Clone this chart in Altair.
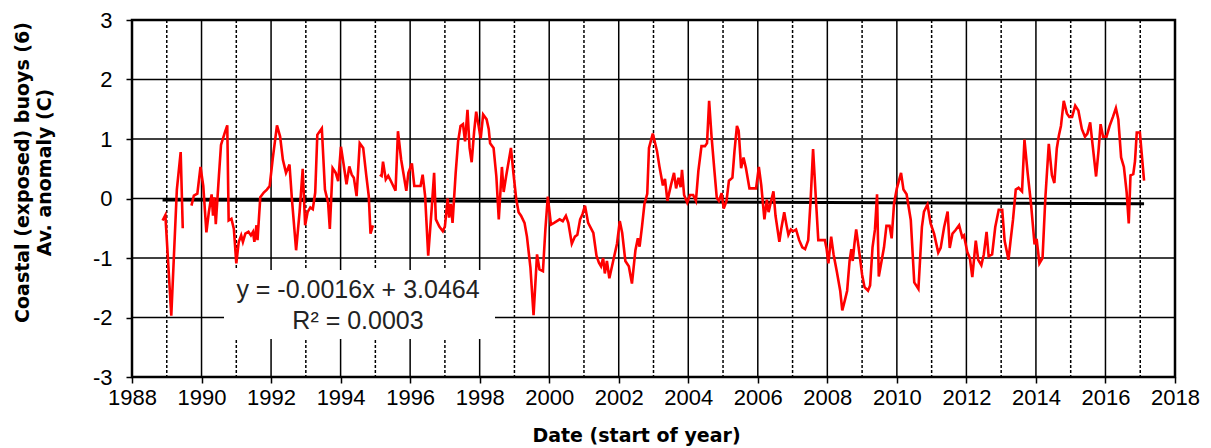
import altair as alt
import pandas as pd

# ---- data ----
seg1_years = [1988.88, 1988.96, 1989.13, 1989.29, 1989.40, 1989.46]
seg1_vals = [-0.37, -0.28, -1.97, 0.15, 0.78, -0.50]

seg2_years = [1989.71, 1989.78, 1989.88, 1989.97, 1990.05, 1990.14, 1990.21, 1990.29, 1990.33,
              1990.37, 1990.41, 1990.50, 1990.56, 1990.66, 1990.74, 1990.78, 1990.86, 1990.93,
              1991.00, 1991.07, 1991.14, 1991.19, 1991.26, 1991.35, 1991.42, 1991.48, 1991.52,
              1991.58, 1991.61, 1991.69, 1991.79, 1991.88, 1991.96, 1992.05, 1992.17, 1992.26,
              1992.34, 1992.43, 1992.53, 1992.60, 1992.72, 1992.82, 1992.91, 1992.98, 1993.05,
              1993.13, 1993.20, 1993.27, 1993.33, 1993.46, 1993.55, 1993.64, 1993.69, 1993.77,
              1993.86, 1993.93, 1994.01, 1994.08, 1994.17, 1994.25, 1994.32, 1994.38, 1994.46,
              1994.55, 1994.65, 1994.74, 1994.81, 1994.86, 1994.93]
seg2_vals = [-0.12, 0.05, 0.08, 0.53, 0.21, -0.57, -0.23, 0.07, -0.29,
             0.02, -0.43, 0.38, 0.90, 1.09, 1.23, -0.37, -0.34, -0.51,
             -1.09, -0.73, -0.62, -0.73, -0.59, -0.56, -0.62, -0.56, -0.73,
             -0.45, -0.70, 0.02, 0.10, 0.15, 0.21, 0.68, 1.23, 1.04,
             0.65, 0.43, 0.57, -0.01, -0.87, -0.23, 0.50, -0.45, -0.23,
             -0.15, -0.18, 0.10, 1.07, 1.18, 0.15, -0.07, -0.51, 0.51,
             0.43, 0.29, 0.87, 0.60, 0.24, 0.54, 0.40, 0.35, 0.04,
             0.93, 0.85, 0.38, 0.04, -0.59, -0.45]

seg3_years = [1995.13, 1995.18, 1995.22, 1995.30, 1995.37, 1995.45, 1995.58, 1995.65, 1995.74,
              1995.89, 1995.95, 1996.05, 1996.12, 1996.21, 1996.30, 1996.36, 1996.43, 1996.52,
              1996.62, 1996.69, 1996.74, 1996.84, 1996.94, 1997.00, 1997.08, 1997.12, 1997.17,
              1997.22, 1997.31, 1997.38, 1997.45, 1997.52, 1997.58, 1997.65, 1997.71, 1997.77,
              1997.84, 1997.90, 1998.03, 1998.10, 1998.20, 1998.26, 1998.30, 1998.40, 1998.48,
              1998.55, 1998.64, 1998.69, 1998.76, 1998.83, 1998.90, 1998.97, 1999.05, 1999.12,
              1999.19, 1999.29, 1999.36, 1999.46, 1999.55, 1999.65, 1999.72, 1999.82, 1999.89,
              1999.96, 2000.05, 2000.14, 2000.22, 2000.30, 2000.39, 2000.48, 2000.55, 2000.65,
              2000.74, 2000.81, 2000.89, 2000.96, 2001.03, 2001.12, 2001.27, 2001.36, 2001.43,
              2001.49, 2001.55, 2001.60, 2001.66, 2001.73, 2001.84, 2001.95, 2002.03, 2002.10,
              2002.19, 2002.29, 2002.38, 2002.48, 2002.55, 2002.60, 2002.67, 2002.74, 2002.82,
              2002.87, 2002.98, 2003.10, 2003.17, 2003.27, 2003.33, 2003.40, 2003.50, 2003.59,
              2003.65, 2003.72, 2003.78, 2003.82, 2003.88, 2003.97, 2004.05, 2004.14, 2004.22,
              2004.29, 2004.38, 2004.48, 2004.54, 2004.60, 2004.67, 2004.75, 2004.82, 2004.88,
              2004.96, 2005.02, 2005.10, 2005.17, 2005.27, 2005.33, 2005.40, 2005.45, 2005.52,
              2005.59, 2005.66, 2005.76, 2005.86, 2005.95, 2006.03, 2006.10, 2006.19, 2006.26,
              2006.31, 2006.38, 2006.45, 2006.51, 2006.62, 2006.68, 2006.76, 2006.83, 2006.88,
              2006.95, 2007.02, 2007.10, 2007.19, 2007.28, 2007.36, 2007.45, 2007.52, 2007.59,
              2007.67, 2007.74, 2007.83, 2007.93, 2007.98, 2008.03, 2008.11, 2008.18, 2008.27,
              2008.37, 2008.43, 2008.50, 2008.57, 2008.64, 2008.69, 2008.73, 2008.78, 2008.83,
              2008.90, 2009.00, 2009.07, 2009.17, 2009.23, 2009.30, 2009.37, 2009.43, 2009.48,
              2009.56, 2009.63, 2009.70, 2009.79, 2009.85, 2009.92, 2010.00, 2010.12, 2010.19,
              2010.28, 2010.40, 2010.50, 2010.62, 2010.72, 2010.78, 2010.88, 2010.97, 2011.07,
              2011.19, 2011.26, 2011.36, 2011.46, 2011.52, 2011.60, 2011.69, 2011.79, 2011.88,
              2011.93, 2012.03, 2012.10, 2012.17, 2012.27, 2012.34, 2012.43, 2012.50, 2012.58,
              2012.64, 2012.74, 2012.83, 2012.93, 2013.03, 2013.10, 2013.21, 2013.27, 2013.34,
              2013.42, 2013.50, 2013.60, 2013.67, 2013.76, 2013.86, 2013.96, 2014.02, 2014.10,
              2014.19, 2014.27, 2014.37, 2014.46, 2014.53, 2014.60, 2014.66, 2014.72, 2014.80,
              2014.89, 2014.96, 2015.04, 2015.13, 2015.22, 2015.32, 2015.41, 2015.48, 2015.56,
              2015.63, 2015.73, 2015.80, 2015.86, 2015.93, 2016.03, 2016.12, 2016.22, 2016.30,
              2016.37, 2016.45, 2016.53, 2016.61, 2016.67, 2016.72, 2016.80, 2016.85, 2016.90,
              2016.99, 2017.04, 2017.11]
seg3_vals = [0.40, 0.38, 0.62, 0.32, 0.38, 0.29, 0.13, 1.13, 0.66,
             0.13, 0.43, 0.59, 0.21, 0.21, 0.21, 0.40, 0.05, -0.96,
             -0.17, 0.43, -0.35, -0.47, -0.55, -0.47, 0.00, -0.32, -0.09,
             -0.41, 0.43, 0.96, 1.22, 1.25, 0.96, 1.49, 0.85, 0.61,
             1.12, 1.46, 1.01, 1.41, 1.33, 1.17, 0.93, 0.85, 0.37,
             -0.35, 0.53, 0.11, 0.37, 0.61, 0.85, 0.43, 0.00, -0.23,
             -0.29, -0.41, -0.64, -1.16, -1.96, -0.94, -1.19, -1.22, -0.52,
             0.03, -0.44, -0.41, -0.38, -0.35, -0.38, -0.29, -0.41, -0.76,
             -0.64, -0.61, -0.35, -0.26, -0.12, -0.41, -0.58, -0.96, -1.08,
             -1.14, -1.00, -1.26, -1.05, -1.34, -1.05, -0.76, -0.38, -0.58,
             -1.05, -1.14, -1.43, -0.87, -0.67, -0.81, -0.47, -0.09, 0.08,
             0.85, 1.09, 0.80, 0.54, 0.22, 0.33, -0.04, 0.22, 0.43,
             0.17, 0.35, 0.19, 0.48, 0.06, -0.07, 0.06, 0.06, -0.04,
             0.46, 0.88, 0.88, 0.93, 1.64, 1.04, 0.48, 0.01, -0.04,
             0.09, -0.17, -0.04, 0.30, 0.35, 0.80, 1.22, 1.14, 0.51,
             0.69, 0.51, 0.17, 0.17, 0.17, 0.53, 0.22, -0.35, -0.02,
             -0.23, -0.05, 0.12, -0.29, -0.73, -0.49, -0.23, -0.46, -0.61,
             -0.52, -0.55, -0.52, -0.70, -0.82, -0.85, -0.70, -0.02, 0.83,
             0.00, -0.70, -0.70, -0.70, -0.85, -1.09, -0.64, -0.94, -1.22,
             -1.55, -1.88, -1.72, -1.55, -1.05, -0.85, -1.05, -0.76, -0.52,
             -0.82, -1.28, -1.49, -1.55, -1.46, -0.82, -0.52, 0.07, -1.31,
             -1.05, -0.82, -0.46, -0.46, -0.67, -0.08, 0.17, 0.43, 0.15,
             0.07, -0.36, -1.41, -1.52, -0.48, -0.22, -0.10, -0.42, -0.59,
             -0.91, -0.83, -0.48, -0.22, -0.83, -0.59, -0.53, -0.45, -0.65,
             -0.62, -0.91, -1.00, -1.32, -0.71, -1.03, -1.12, -0.94, -0.56,
             -0.97, -0.94, -0.48, -0.19, -0.19, -0.71, -1.03, -0.71, -0.36,
             0.15, 0.18, 0.12, 0.99, 0.44, -0.10, -0.77, -0.68, -1.09,
             -1.00, 0.00, 0.92, 0.39, 0.26, 0.84, 1.06, 1.22, 1.64,
             1.43, 1.37, 1.37, 1.56, 1.48, 1.17, 1.04, 1.09, 1.28,
             0.90, 0.37, 0.80, 1.25, 1.04, 1.04, 1.22, 1.38, 1.52,
             1.33, 0.69, 0.53, 0.10, -0.42, 0.39, 0.41, 0.63, 1.11,
             1.11, 0.77, 0.30]

trend_years = [1988.88, 2017.11]
trend_vals = [-0.025, -0.09]

eq_line1 = "y = -0.0016x + 3.0464"
eq_line2 = "R\u00b2 = 0.0003"

x_tick_years = list(range(1988, 2019, 2))
grid_years = list(range(1989, 2018))
y_ticks = [-3, -2, -1, 0, 1, 2, 3]
grid_vals = [-2, -1, 0, 1, 2]

# ---- tables ----
rows = []
for sid, (ys, vs) in enumerate([(seg1_years, seg1_vals), (seg2_years, seg2_vals), (seg3_years, seg3_vals)]):
    for a, b in zip(ys, vs):
        rows.append({"year": a, "value": b, "seg": sid})
df = pd.DataFrame(rows)
trend_df = pd.DataFrame({"year": trend_years, "value": trend_vals})
vgrid_df = pd.DataFrame({"year": grid_years})
hgrid_df = pd.DataFrame({"value": grid_vals})
eq1_df = pd.DataFrame({"label": [eq_line1]})
eq2_df = pd.DataFrame({"label": [eq_line2]})

x_scale = alt.Scale(domain=[1988, 2018], nice=False, zero=False)
y_scale = alt.Scale(domain=[-3, 3], nice=False, zero=False)

x_axis = alt.Axis(
    values=x_tick_years, format="d", title="Date (start of year)",
    grid=False, domain=False, ticks=True, tickSize=6, tickColor="black", tickWidth=1.5,
    labelFont="Liberation Sans", labelFontSize=22, labelColor="black", labelPadding=4,
    labelFlush=False, labelOverlap=False,
    titleFont="DejaVu Sans", titleFontSize=19, titleFontWeight="bold", titleColor="black",
    titleX=504, titleY=64, titleBaseline="alphabetic", titleAnchor="middle", titleAlign="center",
)
y_axis = alt.Axis(
    values=y_ticks, labelExpr="'' + datum.value", title=["Coastal (exposed) buoys (6)", "Av. anomaly (C)"],
    grid=False, domain=False, ticks=True, tickSize=6, tickColor="black", tickWidth=1.5,
    labelFont="Liberation Sans", labelFontSize=22, labelColor="black", labelPadding=14,
    titleFont="DejaVu Sans", titleFontSize=19, titleFontWeight="bold", titleColor="black",
    titleX=-119, titleY=152, titleBaseline="top", titleAlign="center", titleAngle=270,
    titleLineHeight=22,
)

vgrid = alt.Chart(vgrid_df).mark_rule(color="black", strokeWidth=1.5).encode(
    x=alt.X("year:Q", scale=x_scale, axis=x_axis),
    strokeDash=alt.condition("datum.year % 2 == 1", alt.value([3, 2]), alt.value([1, 0])),
)
hgrid = alt.Chart(hgrid_df).mark_rule(color="black", strokeWidth=1.5).encode(
    y=alt.Y("value:Q", scale=y_scale, axis=y_axis),
)
box = alt.Chart(eq1_df).mark_rect(color="white").encode(
    x=alt.value(92), x2=alt.value(363), y=alt.value(250), y2=alt.value(319)
)
eq1 = alt.Chart(eq1_df).mark_text(
    font="Liberation Sans", fontSize=25, color="#222", align="center", baseline="middle"
).encode(x=alt.value(226), y=alt.value(270), text="label:N")
eq2 = alt.Chart(eq2_df).mark_text(
    font="Liberation Sans", fontSize=25, color="#222", align="center", baseline="middle"
).encode(x=alt.value(226), y=alt.value(301), text="label:N")
trend = alt.Chart(trend_df).mark_line(color="black", strokeWidth=3).encode(
    x=alt.X("year:Q", scale=x_scale, axis=x_axis),
    y=alt.Y("value:Q", scale=y_scale, axis=y_axis),
)
line = alt.Chart(df).mark_line(color="#ff0000", strokeWidth=2.6).encode(
    x=alt.X("year:Q", scale=x_scale, axis=x_axis),
    y=alt.Y("value:Q", scale=y_scale, axis=y_axis),
    detail="seg:N",
)

chart = alt.layer(vgrid, hgrid, box, eq1, eq2, trend, line).properties(
    width=1043, height=357,
    autosize=alt.AutoSizeParams(type="none"),
    padding={"left": 124, "top": 12, "right": 28, "bottom": 70},
    background="white",
).configure_view(stroke="black", strokeWidth=2.5)

chart.save("out.html", embed_options={"renderer": "svg", "actions": False})
